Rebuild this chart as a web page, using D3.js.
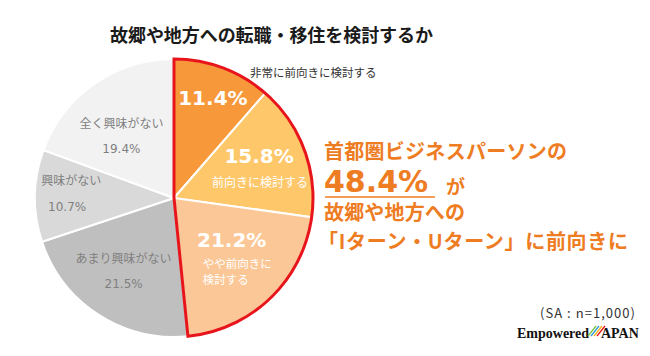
<!DOCTYPE html>
<html><head><meta charset="utf-8">
<script src="https://cdn.jsdelivr.net/npm/d3@7"></script>
<style>
html,body{margin:0;padding:0;background:#fff;}
svg{display:block;}
</style></head>
<body>
<script>
// ---- data ----
const categories = ["非常に前向きに検討する","前向きに検討する","やや前向きに検討する","あまり興味がない","興味がない","全く興味がない"];
const values = [11.4, 15.8, 21.2, 21.5, 10.7, 19.4];
const percentLabels = ["11.4%","15.8%","21.2%","21.5%","10.7%","19.4%"];
const sliceTextLines = [[], ["前向きに検討する"], ["やや前向きに","検討する"], ["あまり興味がない"], ["興味がない"], ["全く興味がない"]];
const colors = ["#F7983A","#FEC76A","#FCC796","#BFBFBF","#D9D9D9","#F2F2F2"];
const positiveTotal = "48.4%";
const title = "故郷や地方への転職・移住を検討するか";
const note = "(SA : n=1,000)";

// ---- layout ----
const W = 650, H = 356;
const cx = 174, cy = 198, R = 139;
const JP = "'Noto Sans CJK JP','Noto Sans',sans-serif";
const NUM = "'DejaVu Sans','Verdana',sans-serif";

const svg = d3.select("body").append("svg").attr("width", W).attr("height", H);
svg.append("rect").attr("width", W).attr("height", H).attr("fill", "#fff");

svg.append("text").attr("x", 110).attr("y", 34)
  .attr("dominant-baseline","central").attr("textLength", 323)
  .style("font-family", JP).style("font-weight","bold").style("font-size","18px")
  .attr("fill","#1a1a1a").text(title);

const pie = d3.pie().sort(null).value(d => d)(values);
const arc = d3.arc().innerRadius(0).outerRadius(R);
const g = svg.append("g").attr("transform", `translate(${cx},${cy})`);

g.selectAll("path.slice").data(pie).enter().append("path")
  .attr("class","slice").attr("d", arc)
  .attr("fill", (d,i) => colors[i])
  .attr("stroke","#fff").attr("stroke-width", 2).attr("stroke-linejoin","round");

// red outline around positive group
const posEnd = pie[2].endAngle;
g.append("path").attr("d", arc({startAngle: 0, endAngle: posEnd}))
  .attr("fill","none").attr("stroke","#E8141B").attr("stroke-width",3).attr("stroke-linejoin","miter");

// label placement per slice: polar (angle offset deg, radius) relative to slice mid-angle
const labelPlace = [
  {r: 107, da: 0.8},
  {r: 90, da: 1.5},
  {r: 81, da: -1.5},
  {r: 88, da: 2},
  {r: 107, da: 2},
  {r: 82, da: -5}
];
const toXY = (d,i) => {
  const a = (d.startAngle + d.endAngle)/2 + labelPlace[i].da*Math.PI/180;
  return [Math.sin(a)*labelPlace[i].r, -Math.cos(a)*labelPlace[i].r];
};

pie.forEach((d,i) => {
  const [x,y] = toXY(d,i);
  if (i === 0) {
    g.append("text").attr("x", x).attr("y", y).attr("text-anchor","middle").attr("dominant-baseline","central")
      .style("font-family", NUM).style("font-weight","bold").style("font-size","20px").attr("fill","#fff").text(percentLabels[i]);
  } else if (i === 1) {
    g.append("text").attr("x", x).attr("y", y - 13).attr("text-anchor","middle").attr("dominant-baseline","central")
      .style("font-family", NUM).style("font-weight","bold").style("font-size","20px").attr("fill","#fff").text(percentLabels[i]);
    g.append("text").attr("x", x + 1).attr("y", y + 13).attr("text-anchor","middle").attr("dominant-baseline","central")
      .style("font-family", JP).style("font-size","12px").attr("fill","#fff").text(sliceTextLines[i][0]);
  } else if (i === 2) {
    g.append("text").attr("x", x).attr("y", y - 15).attr("text-anchor","middle").attr("dominant-baseline","central")
      .style("font-family", NUM).style("font-weight","bold").style("font-size","20px").attr("fill","#fff").text(percentLabels[i]);
    sliceTextLines[i].forEach((t,k) => {
      g.append("text").attr("x", x - 29).attr("y", y + 8 + k*16).attr("text-anchor","start").attr("dominant-baseline","central")
        .style("font-family", JP).style("font-size","11.5px").attr("fill","#fff").text(t);
    });
  } else {
    const tx = (i === 4) ? x - 26 : x;
    g.append("text").attr("x", tx).attr("y", y - 13).attr("text-anchor", i === 4 ? "start" : "middle").attr("dominant-baseline","central")
      .style("font-family", JP).style("font-size","12px").attr("fill","#7F7F7F").text(sliceTextLines[i][0]);
    g.append("text").attr("x", x).attr("y", y + 14).attr("text-anchor","middle").attr("dominant-baseline","central")
      .style("font-family", NUM).style("font-size","12px").attr("fill","#7F7F7F").text(percentLabels[i]);
  }
});

// outside label for first slice
g.append("text").attr("x", 76).attr("y", -126).attr("text-anchor","start").attr("dominant-baseline","central")
  .style("font-family", JP).style("font-size","11.5px").attr("fill","#333").text(categories[0]);

// right side callout
const OR = "#EE7C22";
const rt = svg.append("g").style("font-family", JP).style("font-weight","bold").attr("fill", OR);
rt.append("text").attr("x", 324).attr("y", 150).attr("dominant-baseline","central").style("font-size","20px")
  .attr("textLength", 243).text("首都圏ビジネスパーソンの");
rt.append("text").attr("x", 324).attr("y", 181).attr("dominant-baseline","central")
  .style("font-family", NUM).style("font-size","30px").text(positiveTotal);
rt.append("line").attr("x1", 325).attr("x2", 435).attr("y1", 197).attr("y2", 197)
  .attr("stroke", OR).attr("stroke-width", 1.5);
rt.append("text").attr("x", 446).attr("y", 185).attr("dominant-baseline","central").style("font-size","19px").text("が");
rt.append("text").attr("x", 324).attr("y", 211).attr("dominant-baseline","central").style("font-size","20px")
  .attr("textLength", 141).text("故郷や地方への");
rt.append("text").attr("x", 318).attr("y", 240).attr("dominant-baseline","central").style("font-size","20px")
  .attr("textLength", 310).text("「Iターン・Uターン」に前向きに");

// note
svg.append("text").attr("x", 540).attr("y", 312).attr("dominant-baseline","central")
  .attr("textLength", 95)
  .style("font-family", JP).style("font-size","13px").attr("fill","#333").text(note);

// logo
const logo = svg.append("g");
logo.append("text").attr("x", 517).attr("y", 338)
  .style("font-family","'Liberation Serif','DejaVu Serif',serif").style("font-weight","bold").style("font-size","14px")
  .attr("fill","#111").text("Empowered");
["#7AC143","#2E9BD6","#F6B21B","#E8141B"].forEach((c,k) => {
  logo.append("line").attr("x1", 588 + k*3).attr("y1", 336).attr("x2", 596 + k*3).attr("y2", 326)
    .attr("stroke", c).attr("stroke-width", 1.3);
});
logo.append("text").attr("x", 601).attr("y", 338)
  .style("font-family","'Liberation Serif','DejaVu Serif',serif").style("font-weight","bold").style("font-size","14px")
  .attr("fill","#111").text("APAN");
</script>
</body></html>
